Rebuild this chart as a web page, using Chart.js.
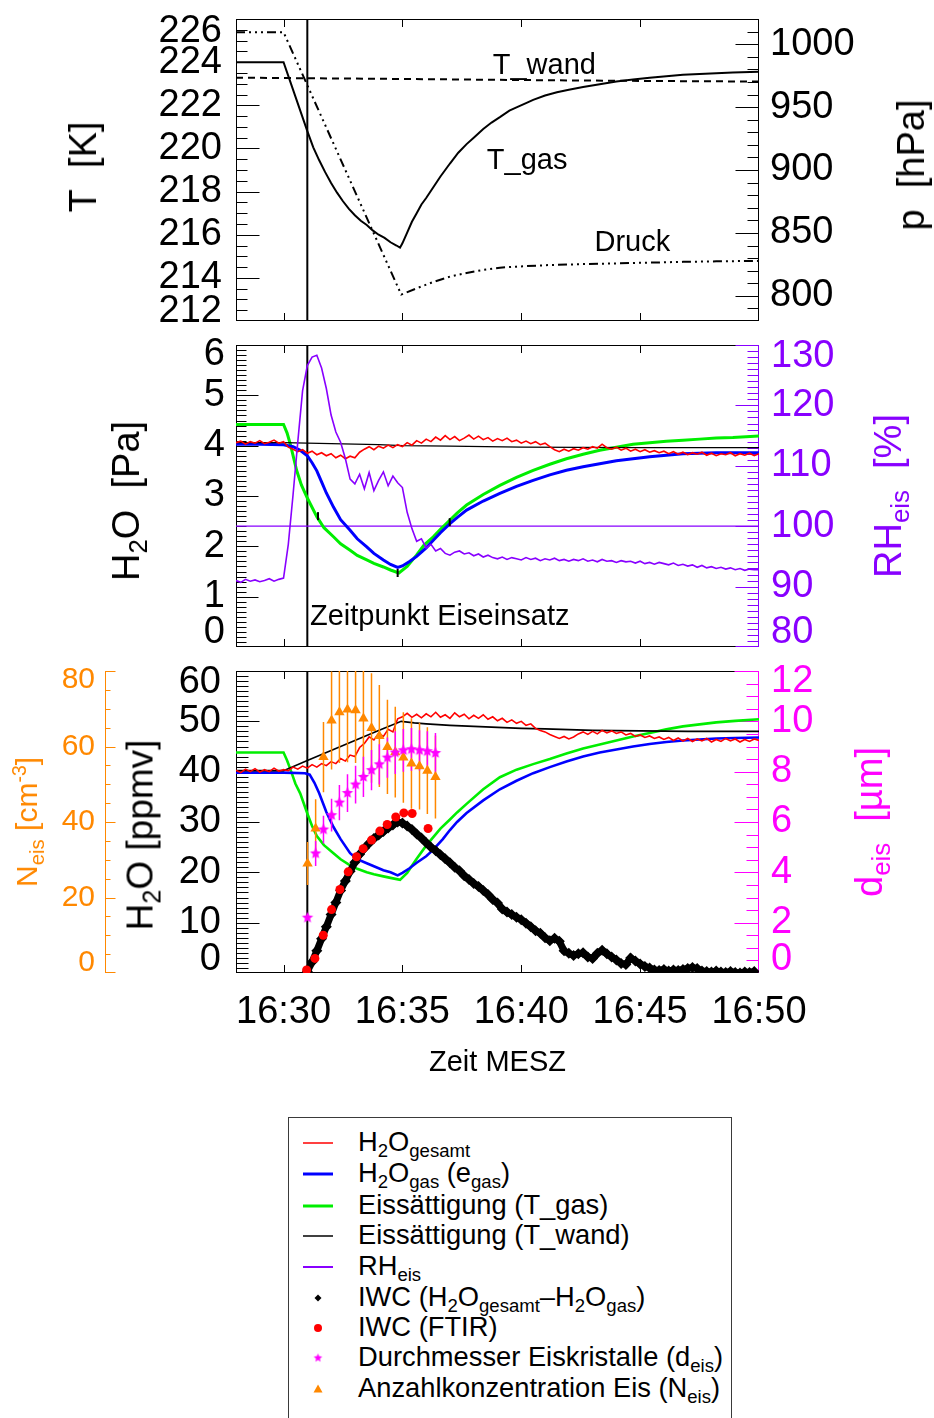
<!DOCTYPE html>
<html>
<head>
<meta charset="utf-8">
<script src="https://cdn.jsdelivr.net/npm/chart.js@4.4.1/dist/chart.umd.min.js"></script>
<style>
  html, body { margin: 0; padding: 0; background: #fff; }
  #page { position: relative; width: 934px; height: 1418px; overflow: hidden;
          font-family: "Liberation Sans", Arial, Helvetica, sans-serif; color: #000; }
  #page canvas { position: absolute; left: 0; }
  .vt { position: absolute; white-space: nowrap; line-height: 1;
        transform: translate(-50%, -50%) rotate(-90deg); }
  .lo { font-size: 0.68em; position: relative; top: 0.32em; }
  .hi { font-size: 0.65em; position: relative; top: -0.55em; }
  #legend { position: absolute; left: 288px; top: 1117px; width: 444px; height: 340px;
            border: 1px solid #3a3a3a; box-sizing: border-box; }
  .row { position: absolute; left: 0; width: 100%; height: 0; }
  .row .txt { position: absolute; left: 69px; top: -1px; transform: translateY(-50%);
              font-size: 27.3px; line-height: 1; white-space: nowrap; }
  .row svg { position: absolute; left: 13px; top: -8px; overflow: visible; }
</style>
</head>
<body>
<div id="page">
  <canvas id="cTemp" width="934" height="330" style="top:0;width:934px;height:330px"></canvas>
  <canvas id="cPa" width="934" height="330" style="top:330px;width:934px;height:330px"></canvas>
  <canvas id="cPpm" width="934" height="440" style="top:660px;width:934px;height:440px"></canvas>

  <div class="vt" style="left:83px;top:167px;font-size:38px">T&nbsp;&nbsp;[K]</div>
  <div class="vt" style="left:911px;top:165px;font-size:38px">p&nbsp;&nbsp;[hPa]</div>
  <div class="vt" style="left:126px;top:501px;font-size:38px">H<span class="lo">2</span>O&nbsp;&nbsp;[Pa]</div>
  <div class="vt" style="left:888px;top:496px;font-size:38px;color:#8800ff">RH<span class="lo">eis</span>&nbsp;&nbsp;[%]</div>
  <div class="vt" style="left:27px;top:822px;font-size:30px;color:#ff8800">N<span class="lo">eis</span> [cm<span class="hi">-3</span>]</div>
  <div class="vt" style="left:140px;top:835px;font-size:37px">H<span class="lo">2</span>O [ppmv]</div>
  <div class="vt" style="left:869px;top:822px;font-size:38px;color:#ff00ff">d<span class="lo">eis</span>&nbsp;&nbsp;[µm]</div>

  <div id="legend"></div>
</div>

<script>
const FONT = '"Liberation Sans", Arial, Helvetica, sans-serif';
Chart.defaults.font.family = FONT;

const COL = {
  red: '#ff0000', blue: '#0000ff', green: '#00ee00', black: '#000000',
  purple: '#8800ff', orange: '#ff8800', magenta: '#ff00ff'
};

// ---------------- time axis (minutes after 16:00 MESZ) ----------------
const timeMin = 28, timeMax = 50;
const timeTicks = [30, 35, 40, 45, 50];
const eisTime = 31.0;                 // Zeitpunkt Eiseinsatz

// ---------------- panel 1: temperatures and pressure ----------------
const tGasTime = [28.0, 30.0, 30.25, 30.5, 30.75, 31.0, 31.25, 31.5, 31.75, 32.0,
                  32.25, 32.5, 32.75, 33.0, 33.25, 33.5, 33.75, 34.0, 34.25, 34.5,
                  34.75, 34.9, 35.0, 35.2, 35.4, 35.6, 35.8, 36.0, 36.3, 36.6,
                  37.0, 37.35, 37.7, 38.0, 38.4, 38.75, 39.1, 39.5, 39.8, 40.2,
                  40.5, 41.0, 41.5, 42.0, 42.6, 43.3, 44.0, 44.7, 45.4, 46.1,
                  46.8, 47.5, 48.2, 48.9, 50.0];
const tGasK    = [224.0, 224.0, 223.2, 222.4, 221.6, 220.8, 220.05, 219.45, 218.9, 218.4,
                  217.95, 217.55, 217.2, 216.9, 216.65, 216.45, 216.2, 216.0, 215.85, 215.65,
                  215.5, 215.4, 215.6, 216.1, 216.6, 217.0, 217.4, 217.7, 218.2, 218.7,
                  219.3, 219.8, 220.2, 220.5, 220.9, 221.2, 221.45, 221.75, 221.9, 222.1,
                  222.25, 222.45, 222.6, 222.72, 222.85, 222.97, 223.1, 223.2, 223.28, 223.35,
                  223.41, 223.45, 223.49, 223.52, 223.55];
const tWandTime = [28, 35, 40, 45, 50];
const tWandK    = [223.28, 223.22, 223.17, 223.13, 223.1];
const druckTime = [28.0, 30.0, 34.95, 35.6, 36.3, 37.0, 37.7, 38.4, 39.1, 39.8,
                   41.2, 42.6, 44.0, 45.4, 46.8, 48.2, 50.0];
const druckHPa  = [1009.5, 1009.5, 801.0, 806.0, 811.0, 815.3, 818.2, 820.6, 822.4, 823.2,
                   824.5, 825.2, 825.8, 826.4, 827.0, 827.4, 827.8];

// ---------------- panel 2: water vapour pressure and RH ----------------
// high-rate records, sampled every 0.2 min from 16:28
const fineStart = 28.0, fineStep = 0.2;
const h2oGesamtPa = [
  4.06, 4.09, 4.03, 4.08, 4.05, 4.10, 4.04, 4.07, 4.11, 4.05,
  4.08, 3.97, 3.93, 3.88, 3.92, 3.85, 3.89, 3.82, 3.86, 3.80,
  3.84, 3.76, 3.81, 3.74, 3.79, 3.76, 3.87, 3.93, 3.98, 3.92,
  3.99, 3.95, 4.01, 3.96, 4.02, 3.98, 4.06, 4.01, 4.10, 4.05,
  4.13, 4.08, 4.17, 4.11, 4.20, 4.12, 4.18, 4.10, 4.15, 4.21,
  4.13, 4.19, 4.12, 4.16, 4.09, 4.14, 4.10, 4.15, 4.08, 4.11,
  4.05, 4.09, 4.04, 4.08, 4.02, 4.05, 3.98, 3.92, 3.88, 3.93,
  3.89, 3.94, 3.91, 3.96, 3.93, 3.98, 3.95, 4.03, 3.96, 3.93,
  3.97, 3.91, 3.95, 3.89, 3.93, 3.88, 3.92, 3.87, 3.90, 3.86,
  3.89, 3.84, 3.88, 3.83, 3.87, 3.82, 3.86, 3.83, 3.87, 3.81,
  3.85, 3.80, 3.84, 3.82, 3.86, 3.80, 3.84, 3.81, 3.85, 3.80,
  3.84];
const rhEis = [
  91.0, 90.7, 91.2, 90.9, 91.1, 90.8, 91.0, 91.3, 90.9, 91.2,
  91.4, 97.0, 105.2, 114.0, 122.4, 126.6, 128.0, 128.3, 126.2, 122.8,
  118.4, 115.6, 113.9, 111.2, 107.8, 107.0, 108.6, 106.2, 108.9, 105.9,
  107.6, 109.0, 106.7, 108.3, 107.2, 106.4, 102.3, 99.6, 97.5, 97.9,
  96.4, 97.0, 95.9, 96.3, 95.5, 95.2, 95.7, 95.9, 95.4, 95.6,
  95.1, 95.4, 94.9, 95.2, 94.8, 94.6, 94.9, 94.5, 94.8, 94.6,
  94.4, 94.8, 94.5, 94.7, 94.3, 94.6, 94.4, 94.7, 94.3, 94.5,
  94.2, 94.5, 94.3, 94.6, 94.2, 94.4, 94.1, 94.5, 94.2, 94.3,
  94.0, 94.3, 94.1, 94.2, 93.9, 94.2, 93.8, 94.0, 93.7, 94.0,
  93.8, 93.6, 93.9, 93.5, 93.7, 93.4, 93.6, 93.2, 93.5, 93.1,
  93.3, 93.0, 93.2, 92.9, 93.1, 92.8, 93.0, 92.7, 92.9, 92.8,
  92.8];
const gasPaTime = [28, 29, 30.0, 30.4, 30.7, 31.0, 31.2, 31.4, 31.6, 31.8,
                   32.1, 32.4, 32.8, 33.1, 33.5, 33.8, 34.2, 34.5, 34.8, 35.0,
                   35.3, 35.6, 36.0, 36.3, 36.6, 37.0, 37.3, 37.7, 38.4, 39.1,
                   39.8, 40.5, 41.2, 41.9, 42.6, 43.3, 44.0, 44.7, 45.4, 46.1,
                   46.8, 47.5, 48.2, 49.0, 50.0];
const h2oGasPa  = [4.03, 4.03, 4.02, 3.98, 3.91, 3.80, 3.66, 3.50, 3.28, 3.06,
                   2.78, 2.53, 2.32, 2.15, 1.99, 1.86, 1.73, 1.64, 1.58, 1.61,
                   1.70, 1.80, 1.97, 2.12, 2.27, 2.45, 2.57, 2.72, 2.90, 3.05,
                   3.19, 3.31, 3.42, 3.51, 3.58, 3.64, 3.70, 3.74, 3.78, 3.81,
                   3.84, 3.85, 3.86, 3.86, 3.86];
const satGasPaTime = [28, 30.0, 30.15, 30.3, 30.55, 30.75, 31.0, 31.4, 31.7, 32.1,
                      32.4, 32.8, 33.1, 33.5, 33.8, 34.2, 34.5, 34.85, 35.2, 35.6,
                      35.9, 36.3, 36.6, 37.0, 37.3, 37.7, 38.4, 39.1, 39.8, 40.5,
                      41.2, 41.9, 42.6, 43.3, 44.0, 44.7, 45.4, 46.1, 46.8, 47.5,
                      48.2, 48.9, 50.0];
const satGasPa     = [4.42, 4.42, 4.25, 4.00, 3.51, 3.22, 2.96, 2.59, 2.37, 2.19,
                      2.05, 1.92, 1.82, 1.73, 1.66, 1.59, 1.53, 1.47, 1.60, 1.83,
                      2.02, 2.19, 2.34, 2.52, 2.66, 2.82, 3.03, 3.21, 3.37, 3.51,
                      3.63, 3.74, 3.83, 3.91, 3.97, 4.03, 4.06, 4.09, 4.11, 4.13,
                      4.15, 4.16, 4.19];
const satWandPaTime = [28, 30, 32, 34, 35, 37, 40, 45, 50];
const satWandPa     = [4.06, 4.06, 4.04, 4.02, 4.00, 3.99, 3.97, 3.96, 3.96];
const markPaTime = [31.45, 34.8, 36.99];
const markPa     = [2.6, 1.47, 2.48];

// ---------------- panel 3: mixing ratios and ice ----------------
const h2oGesamtPpm = [
  40.3, 39.8, 40.5, 40.0, 40.6, 39.9, 40.4, 40.0, 40.7, 40.1,
  40.4, 40.2, 40.9, 40.5, 41.1, 40.7, 41.4, 40.9, 41.6, 41.2,
  42.0, 41.6, 42.6, 42.1, 43.3, 43.0, 44.8, 45.6, 46.9, 46.3,
  47.6, 47.0, 48.4, 47.9, 50.5, 50.9, 51.6, 50.8, 51.4, 50.7,
  51.5, 50.9, 51.8, 50.8, 51.3, 50.6, 51.7, 50.9, 51.4, 50.5,
  51.2, 50.6, 51.3, 50.4, 50.9, 50.1, 50.6, 49.8, 50.3, 49.6,
  50.0, 49.2, 49.5, 48.6, 48.2, 47.9, 47.4, 47.0, 46.6, 47.0,
  46.5, 46.9, 47.5, 47.9, 47.4, 48.0, 47.5, 48.2, 47.7, 48.1,
  47.6, 47.9, 47.3, 47.6, 47.0, 47.3, 46.8, 47.1, 46.6, 46.9,
  46.4, 46.8, 46.2, 46.7, 46.1, 46.6, 46.0, 46.5, 46.1, 46.6,
  45.9, 46.4, 46.0, 46.6, 46.1, 46.5, 45.9, 46.4, 46.0, 46.5,
  46.2];
const gasPpmTime = [28, 30.0, 30.9, 31.1, 31.3, 31.5, 31.8, 32.1, 32.4, 32.8,
                    33.1, 33.5, 33.8, 34.2, 34.5, 34.8, 35.0, 35.3, 35.6, 36.0,
                    36.3, 36.7, 37.0, 37.3, 37.7, 38.4, 39.1, 39.8, 40.5, 41.2,
                    41.9, 42.6, 43.3, 44.0, 44.7, 45.4, 46.1, 46.8, 47.5, 48.2,
                    49.0, 50.0];
const h2oGasPpm  = [39.8, 39.8, 39.7, 39.4, 37.8, 35.7, 32.0, 29.0, 26.6, 23.8,
                    22.6, 21.8, 21.2, 20.4, 20.0, 19.4, 19.9, 20.8, 21.9, 23.2,
                    24.5, 26.6, 28.4, 30.0, 31.8, 34.3, 36.5, 38.2, 39.7, 40.9,
                    42.0, 43.0, 43.8, 44.4, 45.0, 45.5, 45.9, 46.2, 46.4, 46.6,
                    46.7, 46.8];
const satGasPpmTime = [28, 30.0, 30.15, 30.3, 30.5, 30.7, 31.0, 31.2, 31.4, 31.7,
                       32.1, 32.4, 32.8, 33.1, 33.5, 33.8, 34.2, 34.5, 34.9, 35.2,
                       35.6, 36.0, 36.3, 36.6, 37.0, 37.3, 37.7, 38.4, 39.1, 39.8,
                       40.5, 41.2, 41.9, 42.6, 43.3, 44.0, 44.7, 45.4, 46.1, 46.8,
                       47.5, 48.2, 49.0, 50.0];
const satGasPpm     = [43.8, 43.8, 42.2, 40.3, 37.6, 35.7, 31.7, 29.2, 27.2, 25.4,
                       23.8, 22.6, 21.4, 20.7, 20.0, 19.6, 19.2, 18.9, 18.5, 19.9,
                       22.7, 25.3, 27.0, 28.7, 30.5, 31.9, 33.6, 36.5, 38.9, 40.4,
                       41.5, 42.5, 43.6, 44.6, 45.4, 46.2, 47.0, 47.7, 48.4, 49.0,
                       49.4, 49.8, 50.1, 50.4];
const satWandPpmTime = [28, 30.0, 31.0, 32.0, 33.0, 34.0, 34.95, 35.5, 36.0, 37.0,
                        38.0, 39.0, 40.0, 41.0, 43.0, 45.0, 47.0, 50.0];
const satWandPpm     = [40.2, 40.2, 42.2, 44.2, 46.2, 48.2, 50.0, 49.7, 49.5, 49.2,
                        49.0, 48.8, 48.6, 48.5, 48.2, 48.1, 48.0, 48.0];

// IWC from total minus gas phase, every 0.2 min from 16:31
const iwcStart = 31.0, iwcStep = 0.2;
const iwcDiff = [
  0.3, 2.2, 4.4, 6.8, 9.2, 11.6, 14.0, 16.4, 18.3, 20.2,
  22.0, 23.6, 24.8, 25.8, 26.7, 27.4, 28.1, 28.8, 29.4, 30.0,
  29.8, 29.2, 28.5, 27.6, 26.8, 25.9, 25.0, 24.3, 23.5, 22.7,
  21.9, 21.0, 20.3, 19.3, 18.6, 17.8, 17.2, 16.4, 15.6, 14.6,
  13.9, 12.7, 12.1, 11.6, 11.1, 10.6, 9.9, 9.2, 8.4, 7.9,
  7.0, 6.4, 6.9, 6.3, 4.4, 3.9, 3.5, 3.8, 4.0, 3.2,
  2.9, 3.9, 4.5, 3.8, 3.2, 2.6, 1.9, 1.7, 3.0, 2.4,
  1.8, 1.3, 1.0, 0.6, 0.5, 0.7, 0.4, 0.6, 0.5, 0.7,
  0.9, 1.1, 0.9, 0.4, 0.3, 0.2, 0.4, 0.2, 0.1, 0.3,
  0.1, 0.0, 0.2, 0.1, 0.3];
const ftirTime = [30.97, 31.32, 31.67, 32.02, 32.37, 32.72, 33.07, 33.35, 33.70, 34.05,
                  34.36, 34.72, 35.06, 35.41, 36.08];
const iwcFtir  = [0.6, 2.9, 7.5, 12.6, 16.6, 20.1, 23.1, 24.7, 26.4, 28.2,
                  29.5, 31.0, 31.8, 31.7, 28.7];
// particle counter / sizing
const iceTime = [31.01, 31.35, 31.68, 32.02, 32.35, 32.69, 33.03, 33.36, 33.70, 34.03,
                 34.37, 34.70, 35.04, 35.38, 35.72, 36.05, 36.39];
const dEis    = [2.2, 4.75, 5.70, 6.27, 6.77, 7.15, 7.49, 7.79, 8.06, 8.29,
                 8.56, 8.76, 8.85, 8.89, 8.85, 8.81, 8.74];
const dEisErr = [0, 0.5, 0.55, 0.65, 0.7, 0.75, 0.75, 0.8, 0.8, 0.8,
                 0.8, 0.85, 0.85, 0.85, 0.8, 0.8, 0.8];
const nEis    = [29.0, 38.3, 57.2, 66.9, 69.1, 69.8, 69.6, 67.4, 64.9, 62.8,
                 59.9, 58.5, 57.1, 55.5, 54.8, 53.6, 51.9];
const nEisErr = [5.7, 7.7, 9.3, 13.0, 13.5, 14.0, 14.0, 14.5, 14.5, 13.5,
                 12.5, 12.0, 12.0, 12.0, 11.5, 11.5, 11.0];

// ---------------- helpers ----------------
const xy = (times, vals) => times.map((t, i) => ({ x: t, y: vals[i] }));
const sampled = (start, step, vals) => vals.map((v, i) => ({ x: +(start + i * step).toFixed(3), y: v }));
const errorBars = (times, vals, errs) => {
  const out = [];
  times.forEach((t, i) => {
    if (!errs[i]) return;
    out.push({ x: t, y: vals[i] - errs[i] }, { x: t, y: vals[i] + errs[i] }, { x: t, y: null });
  });
  return out;
};

function starImage(color, r) {
  const c = document.createElement('canvas');
  const s = Math.ceil(2 * r + 2);
  c.width = c.height = s;
  const g = c.getContext('2d');
  g.fillStyle = color;
  g.beginPath();
  for (let k = 0; k < 10; k++) {
    const a = -Math.PI / 2 + k * Math.PI / 5;
    const rr = k % 2 ? r * 0.45 : r;
    g.lineTo(s / 2 + rr * Math.cos(a), s / 2 + rr * Math.sin(a));
  }
  g.closePath();
  g.fill();
  return c;
}
const starMark = starImage(COL.magenta, 6);

function lineSet(data, color, width, axis, order, extra) {
  return Object.assign({ data, borderColor: color, backgroundColor: color, borderWidth: width,
    yAxisID: axis, pointRadius: 0, fill: false, spanGaps: false, order }, extra || {});
}
function markSet(data, style, color, radius, axis, order, extra) {
  return Object.assign({ data, showLine: false, pointStyle: style, pointRadius: radius,
    pointBackgroundColor: color, pointBorderColor: color, pointBorderWidth: 0,
    yAxisID: axis, order }, extra || {});
}

function yAxis(o) {
  return {
    type: 'linear', position: o.side, min: o.min, max: o.max, weight: o.weight || 0,
    grid: { display: false, drawTicks: false }, border: { display: false },
    ticks: { stepSize: o.step, color: o.color, padding: o.pad, autoSkip: false, includeBounds: false,
             font: { family: FONT, size: o.size }, callback: v => String(v) },
    afterBuildTicks: s => { s.ticks = s.ticks.filter(t => Math.abs(t.value / o.step - Math.round(t.value / o.step)) < 1e-6); },
    afterFit: s => { s.width = o.width; s.paddingTop = 0; s.paddingBottom = 0; }
  };
}
const hiddenX = { type: 'linear', min: timeMin, max: timeMax, display: false };

// axis frame with inward major/minor ticks, plus edge-label nudging
function idlAxes(cfg) {
  return {
    id: 'idlAxes',
    beforeDraw(chart) {
      for (const sh of cfg.shift) {
        const s = chart.scales[sh.id];
        const items = s.getLabelItems();
        if (items.__nudged) continue;
        for (const it of items) {
          const tr = it.options.translation;
          if (Math.abs(tr[1] - s.top) < 1.5) tr[1] += sh.top;
          else if (Math.abs(tr[1] - s.bottom) < 1.5) tr[1] += sh.bottom;
        }
        items.__nudged = true;
      }
    },
    beforeDatasetsDraw(chart) {
      const { ctx, chartArea: a, scales } = chart;
      const seg = (x1, y1, x2, y2) => { ctx.beginPath(); ctx.moveTo(x1, y1); ctx.lineTo(x2, y2); ctx.stroke(); };
      ctx.save();
      ctx.lineWidth = 1;
      const L = a.left + 0.5, R = a.right - 0.5, T = a.top + 0.5, B = a.bottom - 0.5;
      ctx.strokeStyle = '#000';
      ctx.strokeRect(L, T, R - L, B - T);
      for (const v of cfg.xTicks) {
        const px = Math.round(scales.x.getPixelForValue(v)) + 0.5;
        seg(px, a.top, px, a.top + 8);
        seg(px, a.bottom, px, a.bottom - 8);
      }
      for (const ax of cfg.y) {
        const s = scales[ax.id];
        const x0 = ax.at === 'left' ? L : ax.at === 'right' ? R : ax.at + 0.5;
        ctx.strokeStyle = ax.color;
        seg(x0, a.top, x0, a.bottom);
        const n = Math.round((s.max - s.min) / ax.minor);
        for (let k = 0; k <= n; k++) {
          const v = s.min + k * ax.minor;
          const major = Math.abs(v / ax.major - Math.round(v / ax.major)) < 1e-6;
          const py = Math.min(Math.round(s.getPixelForValue(v)) + 0.5, a.bottom - 0.5);
          seg(x0, py, x0 + ax.dir * (major ? ax.majorLen : ax.minorLen), py);
        }
      }
      ctx.restore();
    }
  };
}

function notes(items) {
  return {
    id: 'notes',
    afterDatasetsDraw(chart) {
      const ctx = chart.ctx;
      ctx.save();
      ctx.fillStyle = '#000';
      ctx.textAlign = 'left';
      ctx.textBaseline = 'middle';
      for (const it of items) {
        ctx.font = it.size + 'px ' + FONT;
        ctx.fillText(it.text, chart.scales.x.getPixelForValue(it.t), chart.scales[it.axis].getPixelForValue(it.v));
      }
      ctx.restore();
    }
  };
}

function makeChart(id, datasets, scales, padding, plugins) {
  return new Chart(document.getElementById(id), {
    type: 'line',
    data: { datasets },
    options: {
      responsive: false, maintainAspectRatio: false, animation: false, devicePixelRatio: 1, events: [],
      layout: { padding },
      plugins: { legend: { display: false }, tooltip: { enabled: false } },
      elements: { line: { tension: 0 } },
      scales
    },
    plugins
  });
}

// ---------------- panel 1 ----------------
makeChart('cTemp', [
  lineSet([{ x: eisTime, y: 212 }, { x: eisTime, y: 226 }], COL.black, 2, 'yT', 5),
  lineSet(xy(tGasTime, tGasK), COL.black, 2, 'yT', 1),
  lineSet(xy(tWandTime, tWandK), COL.black, 2, 'yT', 2, { borderDash: [7, 5] }),
  lineSet(xy(druckTime, druckHPa), COL.black, 2, 'yP', 3, { borderDash: [9, 4, 2, 4, 2, 4, 2, 4] })
], {
  x: hiddenX,
  yT: yAxis({ side: 'left', min: 212, max: 226, step: 2, color: '#000', pad: 14, size: 38, width: 236 }),
  yP: yAxis({ side: 'right', min: 780, max: 1020, step: 50, color: '#000', pad: 11, size: 38, width: 175 })
}, { top: 19, bottom: 9, left: 0, right: 0 }, [
  idlAxes({
    xTicks: timeTicks.slice(0, 4),
    shift: [{ id: 'yT', top: 13, bottom: -9 }],
    y: [
      { id: 'yT', at: 'left', dir: 1, major: 2, minor: 0.5, majorLen: 23, minorLen: 11, color: '#000' },
      { id: 'yP', at: 'right', dir: -1, major: 50, minor: 10, majorLen: 23, minorLen: 11, color: '#000' }
    ]
  }),
  notes([
    { text: 'T_wand', t: 38.8, v: 223.83, axis: 'yT', size: 29 },
    { text: 'T_gas', t: 38.55, v: 219.4, axis: 'yT', size: 29 },
    { text: 'Druck', t: 43.08, v: 215.63, axis: 'yT', size: 29 }
  ])
]);

// ---------------- panel 2 ----------------
makeChart('cPa', [
  lineSet([{ x: eisTime, y: 0 }, { x: eisTime, y: 6 }], COL.black, 2, 'yPa', 9),
  lineSet([{ x: timeMin, y: 100 }, { x: timeMax, y: 100 }], COL.purple, 1.2, 'yRH', 8),
  lineSet(xy(satGasPaTime, satGasPa), COL.green, 3, 'yPa', 6),
  lineSet(xy(gasPaTime, h2oGasPa), COL.blue, 3, 'yPa', 5),
  lineSet(xy(satWandPaTime, satWandPa), COL.black, 1.3, 'yPa', 4),
  lineSet(sampled(fineStart, fineStep, h2oGesamtPa), COL.red, 1.6, 'yPa', 3),
  lineSet(sampled(fineStart, fineStep, rhEis), COL.purple, 1.6, 'yRH', 2),
  markSet(xy(markPaTime, markPa), 'line', COL.black, 4, 'yPa', 1, { pointBorderWidth: 2, pointRotation: 90 })
], {
  x: hiddenX,
  yPa: yAxis({ side: 'left', min: 0, max: 6, step: 1, color: '#000', pad: 11, size: 38, width: 236 }),
  yRH: yAxis({ side: 'right', min: 80, max: 130, step: 10, color: COL.purple, pad: 12, size: 38, width: 175 })
}, { top: 15, bottom: 13, left: 0, right: 0 }, [
  idlAxes({
    xTicks: timeTicks.slice(0, 4),
    shift: [{ id: 'yPa', top: 10, bottom: -14 }, { id: 'yRH', top: 12, bottom: -14 }],
    y: [
      { id: 'yPa', at: 'left', dir: 1, major: 1, minor: 0.1, majorLen: 22, minorLen: 10, color: '#000' },
      { id: 'yRH', at: 'right', dir: -1, major: 10, minor: 1, majorLen: 23, minorLen: 11, color: COL.purple }
    ]
  }),
  notes([{ text: 'Zeitpunkt Eiseinsatz', t: 31.11, v: 0.6, axis: 'yPa', size: 29 }])
]);

// ---------------- panel 3 ----------------
makeChart('cPpm', [
  lineSet([{ x: eisTime, y: 0 }, { x: eisTime, y: 60 }], COL.black, 2, 'yPpm', 12),
  lineSet(xy(satGasPpmTime, satGasPpm), COL.green, 2.6, 'yPpm', 11),
  lineSet(xy(gasPpmTime, h2oGasPpm), COL.blue, 2.6, 'yPpm', 10),
  lineSet(xy(satWandPpmTime, satWandPpm), COL.black, 1.6, 'yPpm', 9),
  lineSet(sampled(fineStart, fineStep, h2oGesamtPpm), COL.red, 1.6, 'yPpm', 8),
  markSet(sampled(iwcStart, iwcStep, iwcDiff), 'rectRot', COL.black, 5.5, 'yPpm', 7,
          { showLine: true, borderColor: COL.black, borderWidth: 7 }),
  markSet(xy(ftirTime, iwcFtir), 'circle', COL.red, 4.5, 'yPpm', 6),
  lineSet(errorBars(iceTime, nEis, nEisErr), COL.orange, 1.5, 'yN', 5),
  lineSet(errorBars(iceTime, dEis, dEisErr), COL.magenta, 1.5, 'yD', 4),
  markSet(xy(iceTime, nEis), 'triangle', COL.orange, 6, 'yN', 3),
  markSet(xy(iceTime, dEis), starMark, COL.magenta, 6, 'yD', 2)
], {
  x: {
    type: 'linear', min: timeMin, max: timeMax, position: 'bottom',
    grid: { display: false, drawTicks: false }, border: { display: false },
    ticks: { stepSize: 5, padding: 17, color: '#000', maxRotation: 0, autoSkip: false, includeBounds: false,
             font: { family: FONT, size: 38 }, callback: v => '16:' + v },
    afterBuildTicks: s => { s.ticks = s.ticks.filter(t => timeTicks.includes(t.value)); },
    title: { display: true, text: 'Zeit MESZ', color: '#000', font: { family: FONT, size: 29 },
             padding: { top: 0, bottom: 20 } },
    afterFit: s => { s.height = 127; s.paddingLeft = 0; s.paddingRight = 0; }
  },
  yN: yAxis({ side: 'left', min: 0, max: 80, step: 20, color: COL.orange, pad: 10, size: 30, width: 105, weight: 1 }),
  yPpm: yAxis({ side: 'left', min: 0, max: 60, step: 10, color: '#000', pad: 15, size: 38, width: 131, weight: 0 }),
  yD: yAxis({ side: 'right', min: 0, max: 12, step: 2, color: COL.magenta, pad: 12, size: 38, width: 175 })
}, { top: 11, bottom: 0, left: 0, right: 0 }, [
  idlAxes({
    xTicks: timeTicks.slice(0, 4),
    shift: [{ id: 'yPpm', top: 12, bottom: -13 }, { id: 'yD', top: 11, bottom: -13 }, { id: 'yN', top: 9, bottom: -10 }],
    y: [
      { id: 'yPpm', at: 'left', dir: 1, major: 10, minor: 1, majorLen: 23, minorLen: 12, color: '#000' },
      { id: 'yD', at: 'right', dir: -1, major: 2, minor: 0.5, majorLen: 24, minorLen: 12, color: COL.magenta },
      { id: 'yN', at: 105, dir: 1, major: 20, minor: 5, majorLen: 10, minorLen: 5, color: COL.orange }
    ]
  })
]);

// ---------------- legend ----------------
const legendEntries = [
  { kind: 'line', color: COL.red, width: 1.5, html: 'H<span class="lo">2</span>O<span class="lo">gesamt</span>' },
  { kind: 'line', color: COL.blue, width: 3, html: 'H<span class="lo">2</span>O<span class="lo">gas</span> (e<span class="lo">gas</span>)' },
  { kind: 'line', color: COL.green, width: 3, html: 'Eissättigung (T_gas)' },
  { kind: 'line', color: COL.black, width: 1.5, html: 'Eissättigung (T_wand)' },
  { kind: 'line', color: COL.purple, width: 2, html: 'RH<span class="lo">eis</span>' },
  { kind: 'diamond', color: COL.black, html: 'IWC (H<span class="lo">2</span>O<span class="lo">gesamt</span>–H<span class="lo">2</span>O<span class="lo">gas</span>)' },
  { kind: 'circle', color: COL.red, html: 'IWC (FTIR)' },
  { kind: 'star', color: COL.magenta, html: 'Durchmesser Eiskristalle (d<span class="lo">eis</span>)' },
  { kind: 'triangle', color: COL.orange, html: 'Anzahlkonzentration Eis (N<span class="lo">eis</span>)' }
];
const legendRowY = [25, 56, 88, 118, 149, 180, 210, 240, 271];
const legendBox = document.getElementById('legend');
const legendStar = starImage(COL.magenta, 4.5);
legendEntries.forEach((e, i) => {
  const row = document.createElement('div');
  row.className = 'row';
  row.style.top = legendRowY[i] + 'px';
  let mark = '';
  if (e.kind === 'line') mark = `<line x1="1" y1="8" x2="31" y2="8" stroke="${e.color}" stroke-width="${e.width}"/>`;
  if (e.kind === 'diamond') mark = `<polygon points="16,4.5 19.5,8 16,11.5 12.5,8" fill="${e.color}"/>`;
  if (e.kind === 'circle') mark = `<circle cx="16" cy="8" r="4" fill="${e.color}"/>`;
  if (e.kind === 'star') mark = `<image href="${legendStar.toDataURL()}" x="10.5" y="2.5" width="11" height="11"/>`;
  if (e.kind === 'triangle') mark = `<polygon points="16,3.5 20.5,11.5 11.5,11.5" fill="${e.color}"/>`;
  row.innerHTML = `<svg width="32" height="16" viewBox="0 0 32 16">${mark}</svg><div class="txt">${e.html}</div>`;
  legendBox.appendChild(row);
});
</script>
</body>
</html>
